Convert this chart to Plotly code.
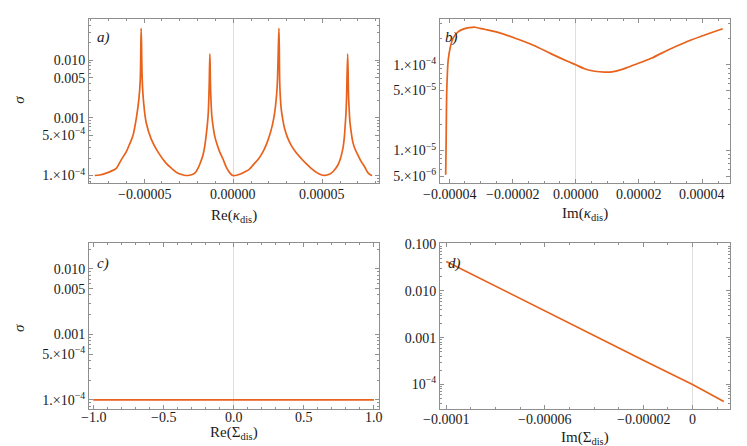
import plotly.graph_objects as go

# ---------------- data ----------------
# panel a: sigma vs Re(kappa_dis)
a_x = [-7.78e-5, -7.50e-5, -7.13e-5, -6.85e-5, -6.57e-5, -6.30e-5, -6.01e-5, -5.82e-5, -5.63e-5,
       -5.45e-5, -5.30e-5, -5.22e-5, -5.17e-5,
       -5.11e-5, -5.03e-5, -4.89e-5, -4.61e-5, -4.23e-5, -3.76e-5, -3.45e-5, -3.20e-5,
       -2.90e-5, -2.64e-5,
       -2.45e-5, -2.26e-5, -2.10e-5, -1.98e-5, -1.85e-5, -1.70e-5, -1.60e-5, -1.52e-5,
       -1.45e-5, -1.40e-5, -1.35e-5, -1.31e-5,
       -1.27e-5, -1.20e-5, -1.12e-5, -1.045e-5, -0.90e-5, -0.76e-5, -0.58e-5, -0.39e-5,
       -0.20e-5, -0.08e-5, 0.0,
       0.20e-5, 0.40e-5, 0.64e-5, 0.90e-5, 1.20e-5, 1.45e-5, 1.67e-5, 1.87e-5, 2.04e-5,
       2.20e-5, 2.33e-5, 2.47e-5, 2.57e-5,
       2.62e-5, 2.70e-5, 2.79e-5, 2.89e-5, 3.06e-5, 3.26e-5, 3.53e-5, 3.82e-5, 4.10e-5,
       4.38e-5, 4.70e-5, 4.90e-5, 5.13e-5,
       5.32e-5, 5.51e-5, 5.70e-5, 5.88e-5, 6.03e-5, 6.16e-5, 6.23e-5, 6.29e-5, 6.34e-5,
       6.37e-5, 6.43e-5,
       6.48e-5, 6.52e-5, 6.56e-5, 6.63e-5, 6.72e-5, 6.85e-5, 7.01e-5, 7.20e-5, 7.38e-5,
       7.55e-5, 7.68e-5, 7.80e-5]
a_sigma = [1.00e-4, 1.02e-4, 1.10e-4, 1.19e-4, 1.33e-4, 1.85e-4, 2.57e-4, 3.50e-4, 4.93e-4,
           9.55e-4, 2.09e-3, 4.57e-3, 3.59e-2,
           4.57e-3, 1.82e-3, 8.32e-4, 4.32e-4, 2.57e-4, 1.62e-4, 1.32e-4, 1.14e-4,
           1.04e-4, 1.00e-4,
           1.01e-4, 1.05e-4, 1.15e-4, 1.33e-4, 1.65e-4, 2.25e-4, 3.20e-4, 4.93e-4,
           7.80e-4, 1.23e-3, 3.51e-3, 1.29e-2,
           3.09e-3, 1.08e-3, 6.80e-4, 4.93e-4, 3.40e-4, 2.57e-4, 1.95e-4, 1.40e-4,
           1.12e-4, 1.02e-4, 1.00e-4,
           1.01e-4, 1.06e-4, 1.15e-4, 1.28e-4, 1.62e-4, 2.00e-4, 2.57e-4, 3.50e-4, 4.93e-4,
           7.50e-4, 1.23e-3, 3.51e-3, 3.59e-2,
           3.51e-3, 1.41e-3, 9.20e-4, 6.46e-4, 4.50e-4, 3.33e-4, 2.50e-4, 1.97e-4, 1.60e-4,
           1.33e-4, 1.12e-4, 1.04e-4, 1.00e-4,
           1.03e-4, 1.10e-4, 1.26e-4, 1.52e-4, 2.00e-4, 2.92e-4, 4.20e-4, 7.31e-4, 1.30e-3,
           2.37e-3, 1.29e-2,
           2.37e-3, 1.30e-3, 8.32e-4, 5.60e-4, 3.80e-4, 2.85e-4, 2.25e-4, 1.72e-4, 1.42e-4,
           1.14e-4, 1.04e-4, 1.00e-4]

# panel b: sigma vs Im(kappa_dis)
b_x = [-4.11e-5, -4.10e-5, -4.09e-5, -4.08e-5, -4.06e-5, -4.03e-5, -3.96e-5, -3.88e-5, -3.72e-5,
       -3.51e-5, -3.35e-5, -3.19e-5, -3.02e-5, -2.85e-5, -2.38e-5, -1.85e-5, -1.32e-5, -0.77e-5,
       -0.24e-5, 0.0, 0.28e-5, 0.60e-5, 0.92e-5, 1.15e-5, 1.34e-5, 1.60e-5, 1.86e-5, 2.39e-5,
       2.92e-5, 3.44e-5, 3.97e-5, 4.65e-5]
b_sigma = [5.2e-6, 9.7e-6, 2.14e-5, 4.34e-5, 7.36e-5, 1.14e-4, 1.63e-4, 2.03e-4, 2.42e-4,
           2.64e-4, 2.71e-4, 2.74e-4, 2.66e-4, 2.58e-4, 2.34e-4, 2.00e-4, 1.68e-4, 1.34e-4,
           1.09e-4, 1.00e-4, 9.0e-5, 8.4e-5, 8.2e-5, 8.25e-5, 8.55e-5, 9.2e-5, 1.00e-4, 1.19e-4,
           1.49e-4, 1.81e-4, 2.15e-4, 2.63e-4]

# panel c: sigma vs Re(Sigma_dis)
c_x = [-1.0, -0.5, 0.0, 0.5, 1.0]
c_sigma = [1.0e-4, 1.0e-4, 1.0e-4, 1.0e-4, 1.0e-4]

# panel d: sigma vs Im(Sigma_dis)
d_x = [-1.0e-4, -6.0e-5, -2.0e-5, 0.0, 1.27e-5]
d_sigma = [4.3e-2, 3.7e-3, 3.3e-4, 1.0e-4, 4.3e-5]

# tick labels
ac_ytickvals = [1e-2, 5e-3, 1e-3, 5e-4, 1e-4]
ac_yticktext = ["0.010", "0.005", "0.001", "5.×10<sup>−4</sup>", "1.×10<sup>−4</sup>"]
b_ytickvals = [1e-4, 5e-5, 1e-5, 5e-6]
b_yticktext = ["1.×10<sup>−4</sup>", "5.×10<sup>−5</sup>", "1.×10<sup>−5</sup>", "5.×10<sup>−6</sup>"]
d_ytickvals = [1e-1, 1e-2, 1e-3, 1e-4]
d_yticktext = ["0.100", "0.010", "0.001", "10<sup>−4</sup>"]
a_xtickvals = [-5e-5, 0.0, 5e-5]
a_xticktext = ["−0.00005", "0.00000", "0.00005"]
b_xtickvals = [-4e-5, -2e-5, 0.0, 2e-5, 4e-5]
b_xticktext = ["−0.00004", "−0.00002", "0.00000", "0.00002", "0.00004"]
c_xtickvals = [-1.0, -0.5, 0.0, 0.5, 1.0]
c_xticktext = ["−1.0", "−0.5", "0.0", "0.5", "1.0"]
d_xtickvals = [-1e-4, -6e-5, -2e-5, 0.0]
d_xticktext = ["−0.0001", "−0.00006", "−0.00002", "0"]

# ---------------- figure ----------------
W, H = 747, 446
LINE = "#E8621B"
FRAME = "#8f8f8f"
FONT = "Liberation Serif, Times New Roman, DejaVu Serif, serif"
TXT = "#1a1a1a"
TICKSIZE = 14


def fx(px):
    return px / W


def fy(py):
    return 1 - py / H


def log_minors(decades):
    out = []
    for d in decades:
        for m in range(2, 10):
            out.append(m * 10.0 ** d)
    return out


def lin_minors(lo, hi, step):
    out = []
    n = int(round((hi - lo) / step))
    for i in range(n + 1):
        out.append(lo + i * step)
    return out


fig = go.Figure()
for x, y, xa, ya, shp in [(a_x, a_sigma, "x", "y", "spline"), (b_x, b_sigma, "x2", "y2", "spline"),
                          (c_x, c_sigma, "x3", "y3", "linear"), (d_x, d_sigma, "x4", "y4", "linear")]:
    line = dict(color=LINE, width=1.7, shape=shp)
    if shp == "spline":
        line["smoothing"] = 0.9
    fig.add_trace(go.Scatter(x=x, y=y, xaxis=xa, yaxis=ya, mode="lines", line=line,
                             showlegend=False, hoverinfo="skip"))

common = dict(showline=True, linecolor=FRAME, linewidth=1, mirror="allticks",
              ticks="inside", ticklen=4, tickcolor=FRAME, tickwidth=1,
              showgrid=False, tickfont=dict(family=FONT, size=TICKSIZE, color=TXT),
              tickmode="array")


def xax(domain, anchor, rng, tv, minors):
    d = dict(common)
    d.update(domain=domain, anchor=anchor, range=rng, tickvals=tv, showticklabels=False,
             zeroline=True, zerolinecolor="#dedede", zerolinewidth=1,
             minor=dict(ticks="inside", ticklen=2, tickcolor=FRAME, tickmode="array",
                        tickvals=minors, showgrid=False))
    return d


def yax(domain, anchor, rng, tv, tt, minors):
    d = dict(common)
    d.update(domain=domain, anchor=anchor, type="log", range=rng, tickvals=tv,
             ticktext=tt, zeroline=False,
             minor=dict(ticks="inside", ticklen=2, tickcolor=FRAME, tickmode="array",
                        tickvals=minors, showgrid=False))
    return d


xl = [fx(81), fx(371)]
xr = [fx(432), fx(721.7)]
yt = [fy(172), fy(5.5)]
yb = [fy(401), fy(233)]

fig.update_layout(
    width=W, height=H, margin=dict(l=0, r=0, t=0, b=0),
    paper_bgcolor="white", plot_bgcolor="white",
    xaxis=xax(xl, "y", [-8.1e-5, 8.19e-5], a_xtickvals, lin_minors(-8e-5, 8e-5, 1e-5)),
    yaxis=yax(yt, "x", [-4.136, -1.29], ac_ytickvals, ac_yticktext, log_minors([-5, -4, -3, -2])),
    xaxis2=xax(xr, "y2", [-4.29e-5, 4.87e-5], b_xtickvals, lin_minors(-4e-5, 4.5e-5, 5e-6)),
    yaxis2=yax(yt, "x2", [-5.383, -3.471], b_ytickvals, b_yticktext, log_minors([-6, -5, -4])),
    xaxis3=xax(xl, "y3", [-1.03, 1.036], c_xtickvals, lin_minors(-1.0, 1.0, 0.1)),
    yaxis3=yax(yb, "x3", [-4.135, -1.61], ac_ytickvals, ac_yticktext, log_minors([-5, -4, -3, -2])),
    xaxis4=xax(xr, "y4", [-1.0256e-4, 1.51e-5], d_xtickvals, lin_minors(-1e-4, 1e-5, 1e-5)),
    yaxis4=yax(yb, "x4", [-4.52, -0.98], d_ytickvals, d_yticktext, log_minors([-5, -4, -3, -2, -1])),
)

# x tick labels placed under each panel on the panel's own x scale
for xref, tv, tt, ypx in [("x", a_xtickvals, a_xticktext, 183),
                          ("x2", b_xtickvals, b_xticktext, 183),
                          ("x3", c_xtickvals, c_xticktext, 410),
                          ("x4", d_xtickvals, d_xticktext, 412)]:
    for v, t in zip(tv, tt):
        fig.add_annotation(text=t, x=v, xref=xref, y=fy(ypx), yref="paper",
                           showarrow=False, xanchor="center", yanchor="middle",
                           font=dict(family=FONT, size=TICKSIZE, color=TXT))

anns = [
    ("<i>a)</i>", 95, 24, 0), ("<i>b)</i>", 444, 24, 0),
    ("<i>c)</i>", 95, 253, 0), ("<i>d)</i>", 446, 253, 0),
    ("Re(<i>κ</i><sub>dis</sub>)", 226, 205, 0), ("Im(<i>κ</i><sub>dis</sub>)", 577, 203, 0),
    ("Re(Σ<sub>dis</sub>)", 226, 426, 0), ("Im(Σ<sub>dis</sub>)", 577, 431, 0),
    ("<i>σ</i>", 11, 87, -90), ("<i>σ</i>", 11, 319, -90),
]
for text, px, py, ang in anns:
    fig.add_annotation(text=text, x=fx(px), y=fy(py), xref="paper", yref="paper",
                       showarrow=False, xanchor="center", yanchor="middle",
                       textangle=ang, font=dict(family=FONT, size=15, color=TXT))

fig.write_html("out.html")
